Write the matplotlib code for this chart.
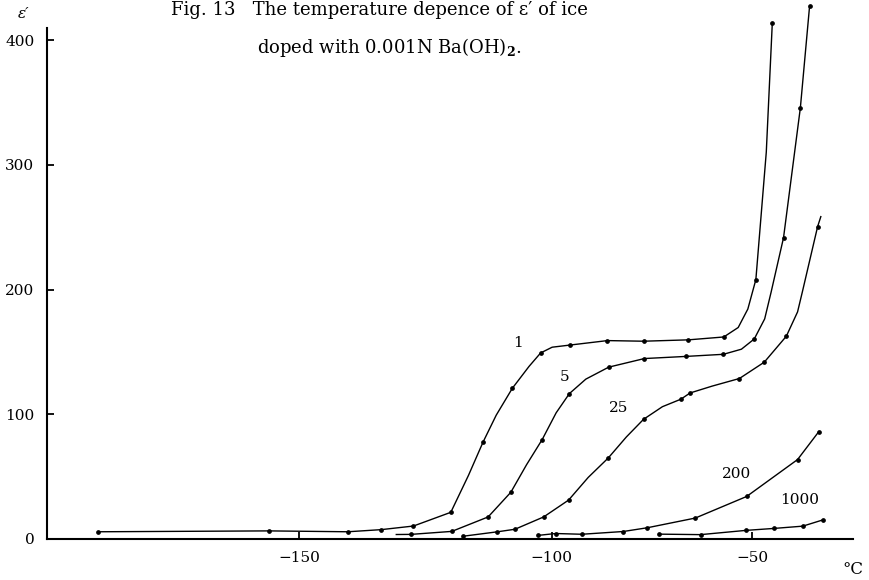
import numpy as np
import matplotlib
matplotlib.use("Agg")
import matplotlib.pyplot as plt

plt.rcParams['font.family'] = ['DejaVu Serif']
plt.rcParams['mathtext.fontset'] = 'dejavuserif'

# ---- data (temperature in degC, epsilon') ----
c1_T = [-189.8, -156.0, -140.4, -133.8, -127.4, -120.0, -113.6, -107.8, -102.2,
        -95.5, -86.1, -77.1, -65.9, -57.1, -49.1, -45.0]
c1_E = [5.8, 6.5, 5.8, 7.5, 10.4, 21.4, 77.8, 120.9, 149.2,
        155.5, 159.1, 158.6, 159.7, 162.0, 208.0, 413.7]
c1_trace_T = [-116.5, -111.0, -104.5, -99.9, -53.5, -51.1, -46.5]
c1_trace_E = [51.0, 99.3, 138.4, 153.8, 169.6, 184.4, 310.2]

c5_T = [-127.9, -119.8, -112.6, -108.1, -101.9, -95.6, -85.8, -76.9, -66.6,
        -57.2, -49.5, -42.2, -38.0, -35.7]
c5_E = [3.7, 6.1, 17.7, 37.5, 79.7, 116.6, 137.8, 144.7, 146.4,
        148.1, 160.4, 241.6, 345.8, 427.4]
c5_trace_T = [-130.8, -105.0, -98.9, -91.5, -52.7, -46.9, -45.3]
c5_trace_E = [3.6, 59.5, 101.2, 128.2, 152.2, 176.5, 197.9]

c25_T = [-117.6, -110.9, -107.3, -101.6, -95.8, -85.9, -77.1, -67.8, -65.5,
         -53.2, -47.0, -41.5, -33.7]
c25_E = [2.2, 5.7, 7.8, 17.7, 31.2, 65.0, 96.0, 112.1, 117.1,
         128.7, 141.8, 162.6, 250.5]
c25_trace_T = [-90.9, -81.4, -72.4, -60.0, -38.7, -37.5, -32.9]
c25_trace_E = [49.4, 81.8, 106.1, 122.6, 182.1, 198.2, 258.5]

c200_T = [-102.7, -99.0, -92.5, -82.2, -76.2, -64.2, -51.4, -38.7, -33.4]
c200_E = [2.9, 4.4, 3.8, 6.0, 9.0, 16.8, 34.1, 63.7, 86.1]

c1000_T = [-73.3, -62.9, -51.6, -44.5, -37.4, -32.4]
c1000_E = [3.9, 3.5, 6.9, 8.5, 10.3, 15.3]

curve_labels = ["1", "5", "25", "200", "1000"]
label_T = [-106.7, -96.7, -83.3, -54.0, -38.3]
label_E = [157.5, 129.6, 105.0, 52.5, 31.1]

x_ticks = [-150, -100, -50]
x_ticklabels = ["\u2212150", "\u2212100", "\u221250"]
y_ticks = [0, 100, 200, 300, 400]
y_ticklabels = ["0", "100", "200", "300", "400"]

# ---- the printed temperature axis is not evenly spaced: piecewise scale ----
knot_T = np.array([-250.0, -150.0, -100.0, -50.0, 0.0])
knot_U = np.array([251.0 - 100 * 5.06, 251.0, 504.0, 705.0, 906.0])


def fwd(t):
    return np.interp(t, knot_T, knot_U)


def inv(u):
    return np.interp(u, knot_U, knot_T)


W, H = 869, 580
fig = plt.figure(figsize=(W / 100, H / 100), dpi=100)
ax = fig.add_axes([47 / W, 41 / H, 805.5 / W, 511.3 / H])
ax.set_xscale('function', functions=(fwd, inv))
ax.set_xlim(-200, -25)
ax.set_ylim(0, 410)

series = [
    (c1_T, c1_E, c1_trace_T, c1_trace_E),
    (c5_T, c5_E, c5_trace_T, c5_trace_E),
    (c25_T, c25_E, c25_trace_T, c25_trace_E),
    (c200_T, c200_E, [], []),
    (c1000_T, c1000_E, [], []),
]
for T, E, tT, tE in series:
    allT = np.concatenate([np.asarray(T, float), np.asarray(tT, float)])
    allE = np.concatenate([np.asarray(E, float), np.asarray(tE, float)])
    order = np.argsort(allT)
    ax.plot(allT[order], allE[order], color='black', lw=1.0,
            solid_joinstyle='round', clip_on=False, zorder=3)
    ax.plot(T, E, linestyle='none', marker='o', ms=2.4, color='black',
            clip_on=False, zorder=4)

for s, t, e in zip(curve_labels, label_T, label_E):
    ax.text(t, e, s, ha='center', va='center', fontsize=11)

for side in ['top', 'right']:
    ax.spines[side].set_visible(False)
for side in ['left', 'bottom']:
    ax.spines[side].set_linewidth(1.5)
    ax.spines[side].set_color('black')

ax.set_xticks(x_ticks)
ax.set_xticklabels(x_ticklabels)
ax.set_yticks(y_ticks)
ax.set_yticklabels(y_ticklabels)
ax.tick_params(axis='both', direction='in', length=5, width=1.3,
               labelsize=11, pad=9, colors='black')
ax.minorticks_off()

# axis labels
fig.text(24 / W, 1 - 14 / H, "\u03b5\u2032", fontsize=11, ha='center',
         va='center', style='italic')
fig.text(853 / W, 1 - 569 / H, "\u00b0C", fontsize=12, ha='center',
         va='center')

# title
fig.text(379 / W, 1 - 1 / H,
         "Fig. 13   The temperature depence of \u03b5\u2032 of ice",
         fontsize=13, ha='center', va='top')
fig.text(389 / W, 1 - 53 / H,
         "doped with 0.001N Ba(OH)$_{\\mathbf{2}}$.",
         fontsize=13, ha='center', va='baseline')

fig.savefig("out.png", dpi=100, facecolor='white')
